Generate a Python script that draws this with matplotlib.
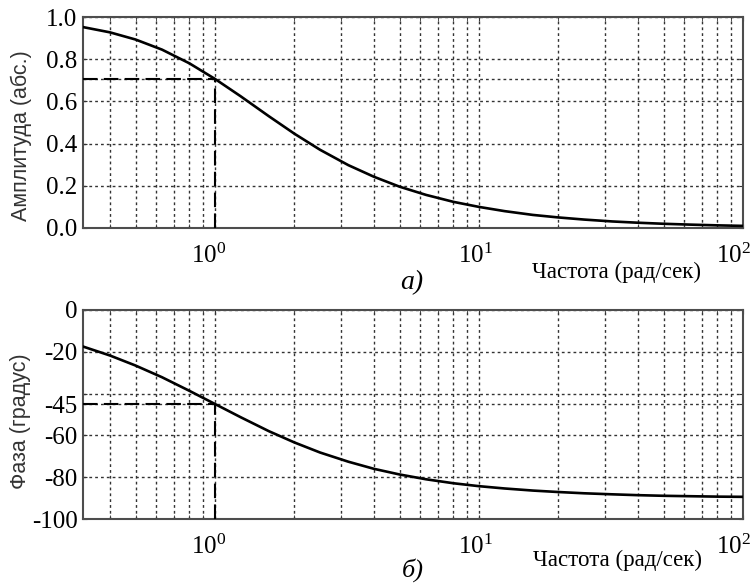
import matplotlib
matplotlib.use("Agg")
import matplotlib.pyplot as plt
import matplotlib.transforms as mtransforms
from matplotlib.ticker import LogLocator, NullFormatter

plt.rcParams['mathtext.fontset'] = 'custom'
plt.rcParams['mathtext.rm'] = 'Liberation Serif'
plt.rcParams['mathtext.it'] = 'Liberation Serif:italic'

# values
freq = [0.316, 0.4, 0.5, 0.63, 0.8, 1.0, 1.25, 1.6, 2.0, 2.5, 3.2, 4.0, 5.0,
        6.3, 8.0, 10, 12.5, 16, 20, 25, 32, 40, 50, 63, 80, 100]
amplitude = [0.953, 0.928, 0.894, 0.846, 0.781, 0.707, 0.625, 0.53, 0.447, 0.371,
             0.298, 0.243, 0.196, 0.157, 0.124, 0.1, 0.08, 0.062, 0.05, 0.04,
             0.031, 0.025, 0.02, 0.016, 0.0125, 0.01]
phase = [-17.5, -21.8, -26.6, -32.2, -38.7, -45.0, -51.3, -58.0, -63.4, -68.2,
         -72.6, -76.0, -78.7, -81.0, -82.9, -84.3, -85.4, -86.4, -87.1, -87.7,
         -88.2, -88.6, -88.9, -89.1, -89.3, -89.4]

amp_ticks = [0.0, 0.2, 0.4, 0.6, 0.707, 0.8, 1.0]
amp_labels = ['0.0', '0.2', '0.4', '0.6', '', '0.8', '1.0']
phase_ticks = [0, -20, -40, -45, -60, -80, -100]
phase_labels = ['0', '-20', '', '-45', '-60', '-80', '-100']
x_ticks = [1, 10, 100]
x_labels = ['$10^0$', '$10^1$', '$10^2$']

cutoff = 1.0
amp_cut = 0.707
phase_cut = -45

serif = 'Liberation Serif'
sans = 'Liberation Sans'
grid_style = dict(color='0.2', linestyle=(0, (2, 2.2)), linewidth=1.0)

fig = plt.figure(figsize=(7.56, 5.84), dpi=100)
ax1 = fig.add_axes([0.1098, 0.6096, 0.873, 0.361])
ax2 = fig.add_axes([0.1098, 0.1113, 0.873, 0.358])


def style_axes(ax, yticks, ylabels, ylim):
    ax.set_xscale('log')
    ax.set_xlim(10 ** -0.5, 100)
    ax.set_ylim(*ylim)
    ax.set_xticks(x_ticks)
    ax.set_xticklabels(x_labels, fontfamily=serif, fontsize=18)
    ax.xaxis.set_minor_locator(LogLocator(base=10, subs=range(2, 10)))
    ax.xaxis.set_minor_formatter(NullFormatter())
    ax.set_yticks(yticks)
    ax.set_yticklabels(ylabels, fontfamily=serif, fontsize=18)
    ax.tick_params(axis='x', which='both', direction='in', length=3, pad=11,
                   top=True, colors='0.2')
    ax.tick_params(axis='y', direction='in', length=3, pad=4, right=True, colors='0.2')
    for lab in ax.get_xticklabels() + ax.get_yticklabels():
        lab.set_color('black')
    # labels sit a little left of their ticks in the reference
    shifts = [-6, -4, -10]
    for lab, dx in zip(ax.get_xticklabels(), shifts):
        lab.set_transform(lab.get_transform() +
                          mtransforms.ScaledTranslation(dx / 100, 0, fig.dpi_scale_trans))
    ax.grid(True, which='both', axis='x', **grid_style)
    ax.grid(True, which='major', axis='y', **grid_style)
    for s in ax.spines.values():
        s.set_color('0.3')
        s.set_linewidth(1.5)


style_axes(ax1, amp_ticks, amp_labels, (0, 1.0))
style_axes(ax2, phase_ticks, phase_labels, (-100, 0))

ax1.plot(freq, amplitude, color='black', linewidth=1.9, zorder=3)
ax1.plot([10 ** -0.5, cutoff], [amp_cut, amp_cut], color='black', linewidth=1.5,
         linestyle=(0, (7, 3)), zorder=3)
ax1.plot([cutoff, cutoff], [0, amp_cut], color='black', linewidth=1.5,
         linestyle=(0, (7, 3)), zorder=3)

ax2.plot(freq, phase, color='black', linewidth=1.9, zorder=3)
ax2.plot([10 ** -0.5, cutoff], [phase_cut, phase_cut], color='black', linewidth=1.5,
         linestyle=(0, (7, 3)), zorder=3)
ax2.plot([cutoff, cutoff], [-100, phase_cut], color='black', linewidth=1.5,
         linestyle=(0, (7, 3)), zorder=3)

ax1.text(-0.094, 0.44, 'Амплитуда (абс.)', transform=ax1.transAxes, rotation=90,
         ha='center', va='center', fontfamily=sans, fontsize=15.5, color='0.2')
ax2.text(-0.094, 0.47, 'Фаза (градус)', transform=ax2.transAxes, rotation=90,
         ha='center', va='center', fontfamily=sans, fontsize=15.5, color='0.2')

ax1.text(0.808, -0.21, 'Частота (рад/сек)', transform=ax1.transAxes,
         ha='center', va='center', fontfamily=serif, fontsize=16.5)
ax2.text(0.81, -0.196, 'Частота (рад/сек)', transform=ax2.transAxes,
         ha='center', va='center', fontfamily=serif, fontsize=16.5)
ax1.text(0.498, -0.26, 'а)', transform=ax1.transAxes, ha='center', va='center',
         fontfamily=serif, style='italic', fontsize=20)
ax2.text(0.5, -0.242, 'б)', transform=ax2.transAxes, ha='center', va='center',
         fontfamily=serif, style='italic', fontsize=19)

fig.savefig('out.png', dpi=100)
